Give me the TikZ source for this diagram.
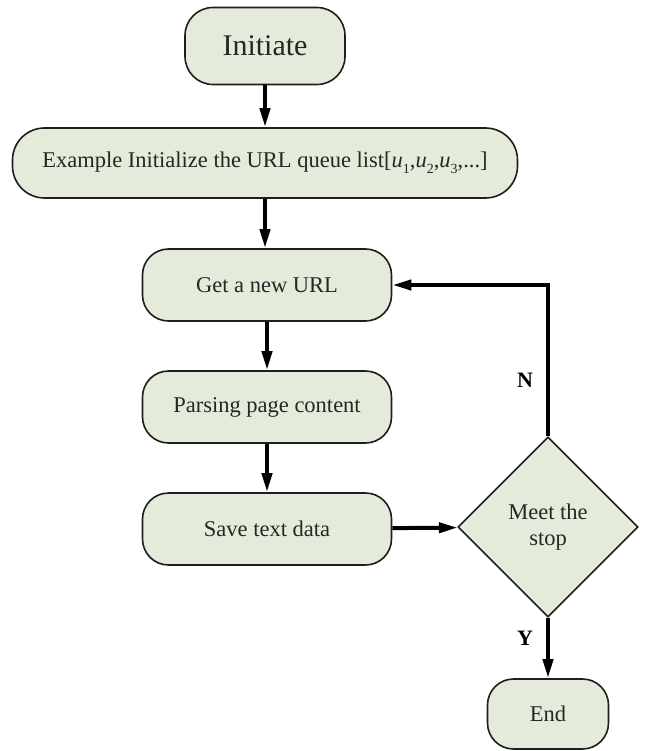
\documentclass[tikz,border=0pt]{standalone}
\usepackage{fontspec}
\setmainfont{Liberation Serif}
\usetikzlibrary{arrows.meta,shapes.geometric}
\definecolor{boxfill}{HTML}{E5EBDA}
\definecolor{boxline}{HTML}{1E1E1E}
\newcommand{\urlitem}[1]{\textit{u}\raisebox{-0.25em}{\fontsize{14}{16}\selectfont #1}}
\begin{document}
\begin{tikzpicture}[x=1pt,y=-1pt,
  every node/.style={font=\fontsize{22.5}{26}\selectfont, text=black!85},
  stepbox/.style={draw=boxline, line width=1.6pt, fill=boxfill, rounded corners=26pt,
    minimum width=249pt, minimum height=72pt, inner sep=0pt},
  decision/.style={draw=boxline, line width=1.6pt, fill=boxfill, diamond, aspect=1,
    minimum size=180pt, inner sep=0pt, align=center},
  flow/.style={line width=4pt, -{Triangle[length=19pt,width=10pt]}},
  tag/.style={font=\fontsize{22}{26}\selectfont\bfseries, text=black}]
\useasboundingbox (0,0) rectangle (646,751);

\node[stepbox, minimum width=160pt, minimum height=77pt, rounded corners=28pt,
      font=\fontsize{30}{34}\selectfont] (init) at (265,46) {Initiate};
\node[stepbox, minimum width=505pt, minimum height=70pt, rounded corners=32pt] (queue) at (265,163)
  {Example Initialize the URL queue list[\urlitem{1},\urlitem{2},\urlitem{3},...]};
\node[stepbox] (get) at (267,285) {Get a new URL};
\node[stepbox] (parse) at (267,407) {Parsing page content};
\node[stepbox] (save) at (267,529) {Save text data};
\node[decision] (stop) at (548,527) {Meet the\\stop};
\node[stepbox, minimum width=121pt, minimum height=70pt, rounded corners=26pt] (end) at (548,714) {End};

\coordinate (corner) at (548,285);

\draw[flow] (init) -- (queue);
\draw[flow] (queue.south -| init) -- (get.north -| init);
\draw[flow] (get) -- (parse);
\draw[flow] (parse) -- (save);
\draw[flow] (save) -- (stop);
\draw[flow] (stop.north) -- (corner) -- (get.east);
\draw[flow] (stop) -- (end);

\node[tag] (nlabel) at (525,380) {N};
\node[tag] (ylabel) at (525,638) {Y};
\end{tikzpicture}
\end{document}
